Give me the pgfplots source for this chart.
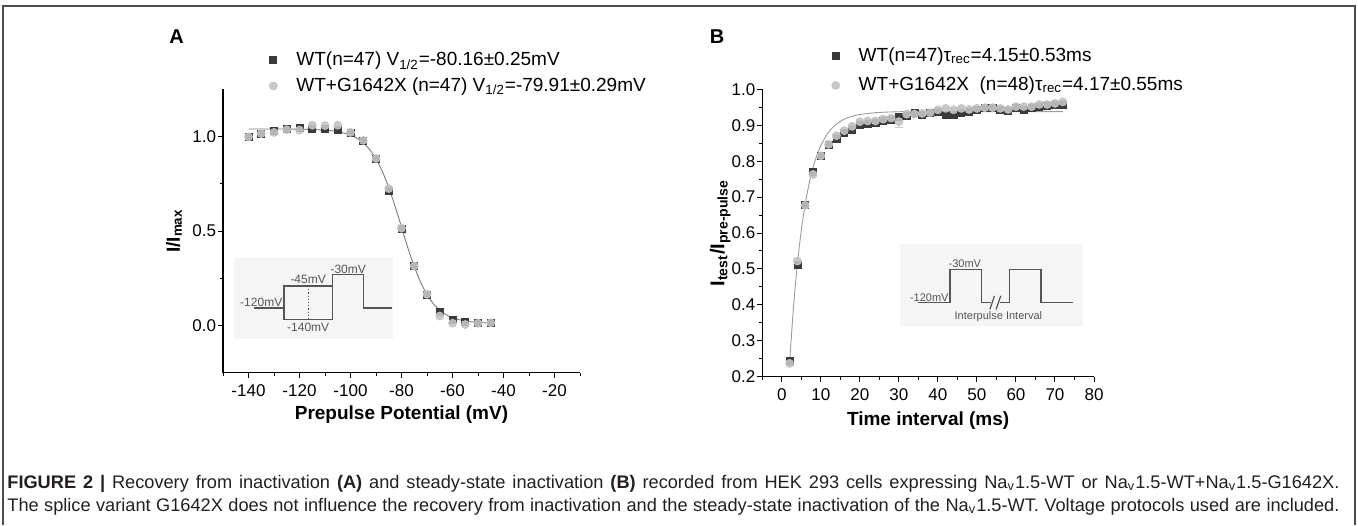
\documentclass[border=0pt]{standalone}
\usepackage{pgfplots}
\pgfplotsset{compat=1.18}
\usepackage{fontspec}
\setmainfont{Liberation Sans}

\definecolor{sqcol}{HTML}{3A3A3A}
\definecolor{circol}{HTML}{C3C3C3}
\definecolor{fitcol}{HTML}{7A7A7A}
\definecolor{insetbg}{HTML}{F5F5F5}
\definecolor{insetln}{HTML}{555555}
\definecolor{framecol}{HTML}{4D4D4D}
\definecolor{captxt}{HTML}{231F20}

\pgfplotsset{
  panel/.style={
    scale only axis,
    axis lines*=left,
    tick align=outside,
    major tick length=2.5pt,
    minor tick length=1.5pt,
    every tick/.style={black, line width=0.5pt},
    axis line style={line width=0.6pt},
    tick label style={font=\fontsize{8.5}{10}\selectfont},
    y tick label style={inner sep=0.8pt},
    label style={font=\bfseries\fontsize{9.5}{11}\selectfont},
    /pgf/number format/assume math mode=true,
    legend style={draw=none, fill=none, font=\fontsize{9.5}{11}\selectfont,
      row sep=2pt, anchor=north west},
    legend cell align=left,
    legend image code/.code={\draw[#1] plot coordinates {(0pt,0pt)};
      \path[draw=none, fill=none] (-2pt,0pt) -- (9.5pt,0pt);},
    clip=false,
  },
  sq/.style={only marks, mark=square*, mark size=1.75pt, color=sqcol},
  ci/.style={only marks, mark=*, mark size=2pt, color=circol},
  fit/.style={no marks, smooth, color=fitcol, line width=0.45pt, forget plot},
}

\begin{document}
\begin{tikzpicture}
\path[use as bounding box] (0pt,0pt) rectangle (679pt,-262.5pt);
\draw[framecol, line width=0.75pt] (1.5pt,-262.5pt) -- (1.5pt,-3pt) -- (677.5pt,-3pt) -- (677.5pt,-262.5pt);

\node[font=\bfseries\fontsize{10}{12}\selectfont] at (88.35pt,-18.35pt) {A};
\node[font=\bfseries\fontsize{10}{12}\selectfont] at (358.5pt,-18.5pt) {B};

% panel A: steady-state inactivation
\begin{axis}[panel,
  at={(111.5pt,-186.35pt)}, anchor=south west,
  width=178.5pt, height=141.7pt,
  xmin=-150, xmax=-10, ymin=-0.25, ymax=1.25,
  xtick={-140,-120,-100,-80,-60,-40,-20},
  minor xtick={-150,-130,-110,-90,-70,-50,-30,-10},
  ytick={0,0.5,1},
  minor ytick={0.25,0.75},
  y tick label style={/pgf/number format/.cd, fixed, fixed zerofill, precision=1, /tikz/.cd},
  xlabel={Prepulse Potential (mV)},
  ylabel={I/I\textsubscript{max}},
  xlabel style={at={(axis description cs:0.5,-0.149)}, anchor=center},
  ylabel style={at={(axis description cs:-0.137,0.5)}, anchor=center},
  legend style={at={(axis description cs:0.112,1.162)}, row sep=0.5pt},
]
\fill[insetbg] (axis cs:-145.5,-0.073) rectangle (axis cs:-83.3,0.357);
\begin{scope}[insetln, line width=0.6pt]
\draw (axis cs:-138,0.092) -- (axis cs:-126.1,0.092);
\draw (axis cs:-126.1,0.032) rectangle (axis cs:-107,0.209);
\draw (axis cs:-107,0.032) -- (axis cs:-107,0.271) -- (axis cs:-95,0.271)
      -- (axis cs:-95,0.092) -- (axis cs:-83.6,0.092);
\draw[densely dotted] (axis cs:-116.5,0.209) -- (axis cs:-116.5,0.032);
\end{scope}
\begin{scope}[every node/.style={text=insetln, font=\fontsize{6}{7}\selectfont, inner sep=0pt}]
\node at (axis cs:-135.0,0.124) {-120mV};
\node at (axis cs:-116.6,0.243) {-45mV};
\node at (axis cs:-100.9,0.299) {-30mV};
\node at (axis cs:-116.6,-0.012) {-140mV};
\end{scope}

\addplot[fit] coordinates {
  (-140,1.040)(-130,1.040)(-120,1.039)(-115,1.037)(-110,1.034)(-105,1.026)
  (-100,1.008)(-97.5,0.991)(-95,0.967)(-92.5,0.931)(-90,0.882)(-87.5,0.815)
  (-85,0.730)(-82.5,0.630)(-80,0.521)(-77.5,0.411)(-75,0.312)(-72.5,0.229)
  (-70,0.164)(-67.5,0.115)(-65,0.081)(-62.5,0.057)(-60,0.041)(-57.5,0.031)
  (-55,0.023)(-52.5,0.019)(-50,0.016)(-47.5,0.014)(-45,0.012)
};
\addplot[sq] coordinates {
  (-140,1.000)(-135,1.012)(-130,1.032)(-125,1.040)(-120,1.048)(-115,1.043)
  (-110,1.040)(-105,1.035)(-100,1.020)(-95,0.979)(-90,0.882)(-85,0.710)
  (-80,0.510)(-75,0.313)(-70,0.163)(-65,0.074)(-60,0.032)(-55,0.018)
  (-50,0.016)(-45,0.016)
};
\addlegendentry{WT(n=47) V\textsubscript{1/2}=-80.16±0.25mV}
\addplot[ci, opacity=0.9] coordinates {
  (-140,0.998)(-135,1.016)(-130,1.022)(-125,1.036)(-120,1.034)(-115,1.060)
  (-110,1.058)(-105,1.060)(-100,1.022)(-95,0.980)(-90,0.884)(-85,0.725)
  (-80,0.515)(-75,0.315)(-70,0.165)(-65,0.050)(-60,0.012)(-55,0.005)
  (-50,0.012)(-45,0.014)
};
\addlegendentry{WT+G1642X (n=47) V\textsubscript{1/2}=-79.91±0.29mV}
\end{axis}

% panel B: recovery from inactivation
\begin{axis}[panel,
  at={(381.15pt,-188.35pt)}, anchor=south west,
  width=165.85pt, height=143.7pt,
  xmin=-5, xmax=80, ymin=0.2, ymax=1.0,
  xtick={0,10,20,30,40,50,60,70,80},
  minor xtick={-5,5,15,25,35,45,55,65,75},
  ytick={0.2,0.3,0.4,0.5,0.6,0.7,0.8,0.9,1.0},
  minor ytick={0.25,0.35,0.45,0.55,0.65,0.75,0.85,0.95},
  y tick label style={/pgf/number format/.cd, fixed, fixed zerofill, precision=1, /tikz/.cd},
  xlabel={Time interval (ms)},
  ylabel={I\textsubscript{test}/I\textsubscript{pre-pulse}},
  xlabel style={at={(axis description cs:0.5,-0.154)}, anchor=center},
  ylabel style={at={(axis description cs:-0.127,0.5)}, anchor=center,
    font=\bfseries\fontsize{10}{12}\selectfont},
  legend style={at={(axis description cs:0.19,1.174)}, row sep=2.3pt},
]
\fill[insetbg] (axis cs:30.3,0.340) rectangle (axis cs:77.3,0.569);
\begin{scope}[insetln, line width=0.6pt]
\draw (axis cs:34.95,0.406) -- (axis cs:43.08,0.406) -- (axis cs:43.08,0.499)
      -- (axis cs:51.2,0.499) -- (axis cs:51.2,0.406) -- (axis cs:53.6,0.406);
\draw (axis cs:53.3,0.387) -- (axis cs:54.5,0.425);
\draw (axis cs:54.9,0.387) -- (axis cs:56.1,0.425);
\draw (axis cs:55.8,0.406) -- (axis cs:58.3,0.406) -- (axis cs:58.3,0.499)
      -- (axis cs:66.4,0.499) -- (axis cs:66.4,0.406) -- (axis cs:74.5,0.406);
\end{scope}
\begin{scope}[every node/.style={text=insetln, font=\fontsize{5.5}{6.5}\selectfont, inner sep=0pt}]
\node at (axis cs:46.9,0.514) {-30mV};
\node at (axis cs:37.8,0.420) {-120mV};
\node at (axis cs:55.5,0.367) {Interpulse Interval};
\end{scope}

\addplot[fit, color=fitcol!75] coordinates {
  (2,0.240)(3,0.395)(4,0.515)(5,0.608)(6,0.681)(7,0.738)(8,0.782)
  (9,0.817)(10,0.844)(12,0.881)(14,0.903)(16,0.917)(18,0.925)(20,0.930)
  (24,0.935)(28,0.937)(35,0.938)(72,0.938)
};
\addplot[sq] coordinates {
  (2,0.243)(4,0.510)(6,0.677)(8,0.770)(10,0.815)(12,0.845)(14,0.861)(16,0.878)
  (18,0.887)(20,0.901)(22,0.904)(24,0.907)(26,0.912)(28,0.916)(30,0.923)
  (32,0.926)(34,0.933)(36,0.929)(38,0.933)(40,0.938)(42,0.929)(44,0.929)
  (46,0.933)(48,0.938)(50,0.944)(52,0.947)(54,0.947)(56,0.943)(58,0.941)
  (60,0.947)(62,0.944)(64,0.947)(66,0.952)(68,0.954)(70,0.956)(72,0.958)
};
\addlegendentry{WT(n=47)τ\textsubscript{rec}=4.15±0.53ms}
\addplot[ci, opacity=0.9,
  error bars/.cd, y dir=both, y explicit,
  error bar style={circol, line width=0.5pt}] coordinates {
  (2,0.237) +- (0,0.005) (4,0.522) +- (0,0.008) (6,0.677) +- (0,0.006)
  (8,0.763) +- (0,0.006) (10,0.815) +- (0,0.005) (12,0.847) +- (0,0.005)
  (14,0.871) +- (0,0.004) (16,0.885) +- (0,0.004) (18,0.897) +- (0,0.004)
  (20,0.910) +- (0,0.004) (22,0.912) +- (0,0.004) (24,0.912) +- (0,0.004)
  (26,0.917) +- (0,0.004) (28,0.920) +- (0,0.004) (30,0.910) +- (0,0.016)
  (32,0.931) +- (0,0.004) (34,0.931) +- (0,0.004) (36,0.933) +- (0,0.004)
  (38,0.935) +- (0,0.004) (40,0.943) +- (0,0.004) (42,0.947) +- (0,0.004)
  (44,0.943) +- (0,0.004) (46,0.947) +- (0,0.004) (48,0.944) +- (0,0.004)
  (50,0.947) +- (0,0.004) (52,0.949) +- (0,0.004) (54,0.949) +- (0,0.004)
  (56,0.947) +- (0,0.004) (58,0.944) +- (0,0.004) (60,0.952) +- (0,0.004)
  (62,0.952) +- (0,0.004) (64,0.952) +- (0,0.004) (66,0.958) +- (0,0.004)
  (68,0.958) +- (0,0.004) (70,0.961) +- (0,0.004) (72,0.965) +- (0,0.004)
};
\addlegendentry{WT+G1642X\ \ (n=48)τ\textsubscript{rec}=4.17±0.55ms}
\end{axis}

% caption
\begin{scope}[every node/.style={anchor=west, inner sep=0pt, text=captxt, font=\fontsize{9.1}{11}\selectfont}]
\node at (3.5pt,-242pt) {\makebox[666pt][s]{\textbf{FIGURE 2 |} Recovery from inactivation \textbf{(A)} and steady-state inactivation \textbf{(B)} recorded from HEK 293 cells expressing Na\textsubscript{v}1.5-WT or Na\textsubscript{v}1.5-WT+Na\textsubscript{v}1.5-G1642X.}};
\node at (3.5pt,-253.5pt) {\makebox[666pt][s]{The splice variant G1642X does not influence the recovery from inactivation and the steady-state inactivation of the Na\textsubscript{v}1.5-WT. Voltage protocols used are included.}};
\end{scope}
\end{tikzpicture}
\end{document}
